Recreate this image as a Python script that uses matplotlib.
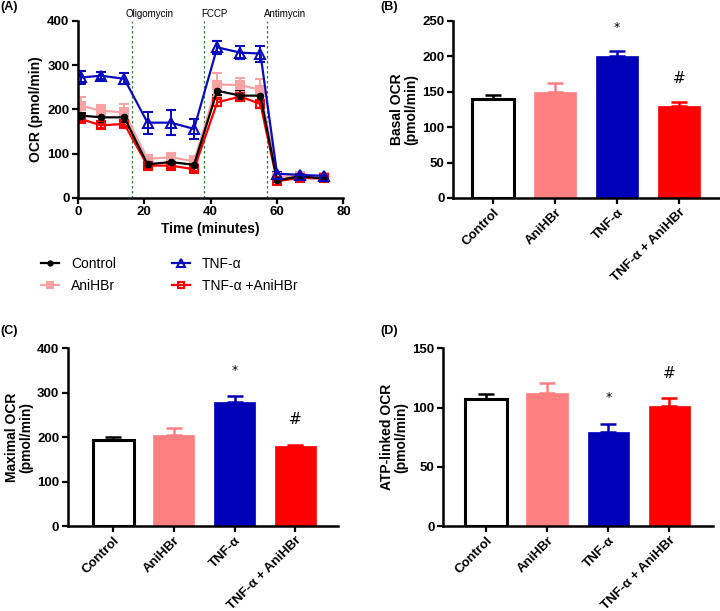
import matplotlib
matplotlib.use("Agg")
import matplotlib.pyplot as plt
from matplotlib.lines import Line2D
import numpy as np

plt.rcParams["font.family"] = ["Liberation Sans", "DejaVu Sans"]

# ---- panel A: OCR time course ----
time_min = [1, 7, 14, 21, 28, 35, 42, 49, 55, 60, 67, 74]
ocr_control = [186, 182, 182, 76, 81, 75, 242, 231, 231, 40, 49, 44]
err_control = [5, 10, 10, 5, 5, 5, 10, 12, 10, 3, 3, 3]
ocr_anihbr = [208, 197, 193, 88, 92, 83, 256, 255, 244, 48, 50, 48]
err_anihbr = [20, 12, 18, 10, 8, 12, 25, 15, 25, 4, 4, 4]
ocr_tnf = [272, 276, 269, 170, 170, 156, 340, 328, 326, 55, 52, 50]
err_tnf = [15, 8, 12, 25, 28, 22, 15, 15, 18, 4, 4, 4]
ocr_tnf_ani = [178, 164, 167, 73, 73, 65, 216, 229, 212, 38, 45, 44]
err_tnf_ani = [5, 5, 5, 5, 5, 5, 8, 8, 8, 3, 3, 3]

injections = [16.3, 38.1, 57.0]
injection_names = ["Oligomycin", "FCCP", "Antimycin"]

# ---- bar panels ----
groups = ["Control", "AniHBr", "TNF-α", "TNF-α + AniHBr"]
basal = [140, 150, 200, 130]
basal_err = [5, 12, 7, 5]
maximal = [193, 204, 280, 180]
maximal_err = [7, 17, 13, 3]
atp_linked = [107, 112, 79, 101]
atp_linked_err = [4, 9, 7, 7]

# significance marks: (bar index, symbol, value height)
basal_marks = [(2, "*", 232), (3, "#", 158)]
maximal_marks = [(2, "*", 335), (3, "#", 222)]
atp_marks = [(2, "*", 103), (3, "#", 122)]

C_BLACK = "#000000"
C_PINK_LINE = "#F7A3A3"
C_PINK_BAR = "#FF8080"
C_BLUE = "#0A0ABF"
C_BLUE_BAR = "#0000B8"
C_RED = "#FF0000"

TICK_FS = 9.5
LABEL_FS = 10


def style_axes(ax):
    for side in ("top", "right"):
        ax.spines[side].set_visible(False)
    for side in ("left", "bottom"):
        ax.spines[side].set_linewidth(1.8)
    ax.tick_params(width=1.6, length=4, pad=2, labelsize=TICK_FS)
    for lab in ax.get_xticklabels() + ax.get_yticklabels():
        lab.set_fontweight("bold")


fig = plt.figure(figsize=(7.2, 6.11), dpi=100)

# Panel A
axA = fig.add_axes([0.108, 0.676, 0.369, 0.290])
series = [
    (ocr_control, err_control, C_BLACK, "o", C_BLACK, 4, "Control"),
    (ocr_anihbr, err_anihbr, C_PINK_LINE, "s", C_PINK_LINE, 6, "AniHBr"),
    (ocr_tnf, err_tnf, C_BLUE, "^", "none", 7, "TNF-α"),
    (ocr_tnf_ani, err_tnf_ani, C_RED, "s", "none", 6, "TNF-α +AniHBr"),
]
handles = {}
for vals, errs, col, mk, mfc, ms, name in [series[1], series[3], series[0], series[2]]:
    axA.errorbar(time_min, vals, yerr=errs, color=col, marker=mk,
                 markerfacecolor=mfc, markeredgecolor=col, markersize=ms,
                 markeredgewidth=1.5, linewidth=1.6, capsize=3.5,
                 elinewidth=1.4, capthick=1.4)
    handles[name] = Line2D([], [], color=col, marker=mk, markerfacecolor=mfc,
                           markeredgecolor=col, markersize=ms - 1,
                           markeredgewidth=1.5, linewidth=1.6)
offsets = {"Oligomycin": 1.9, "FCCP": 1.0, "Antimycin": 1.0}
for x, name in zip(injections, injection_names):
    axA.axvline(x, color="#2E7D32", linestyle=(0, (2, 2)), linewidth=0.9)
    axA.text(x - offsets[name], 405, name, fontsize=7, ha="left", va="bottom")
axA.set_xlim(0, 80)
axA.set_ylim(0, 400)
axA.set_xticks([0, 20, 40, 60, 80])
axA.set_yticks([0, 100, 200, 300, 400])
axA.set_xlabel("Time (minutes)", fontsize=LABEL_FS, fontweight="bold", labelpad=3)
axA.set_ylabel("OCR (pmol/min)", fontsize=LABEL_FS, fontweight="bold", labelpad=3)
style_axes(axA)

order = ["Control", "AniHBr", "TNF-α", "TNF-α +AniHBr"]
fig.legend([handles[n] for n in order], order, loc="upper left",
           bbox_to_anchor=(0.040, 0.600), ncol=2, frameon=False,
           fontsize=10, columnspacing=4.0, handlelength=1.3,
           handletextpad=0.85, labelspacing=0.55)

bar_colors = ["white", C_PINK_BAR, C_BLUE_BAR, C_RED]
edge_colors = [C_BLACK, C_PINK_BAR, C_BLUE_BAR, C_RED]


def bar_panel(rect, vals, errs, marks, ylim, yticks, ylabel, xlim):
    ax = fig.add_axes(rect)
    x = np.arange(len(groups))
    for i in range(len(groups)):
        ax.bar(x[i], vals[i], width=0.68, color=bar_colors[i],
               edgecolor=edge_colors[i], linewidth=2.2 if i == 0 else 0.5,
               zorder=2)
        ax.errorbar(x[i], vals[i], yerr=[[0], [errs[i]]], color=edge_colors[i],
                    capsize=6, elinewidth=1.8, capthick=1.8, zorder=1)
    for i, sym, h in marks:
        ax.text(x[i], h, sym, ha="center", va="bottom",
                fontsize=9 if sym == "*" else 11, family="DejaVu Sans")
    ax.set_xlim(*xlim)
    ax.set_ylim(*ylim)
    ax.set_yticks(yticks)
    ax.set_xticks(x)
    ax.set_xticklabels(groups, rotation=45, ha="right", rotation_mode="anchor")
    ax.set_ylabel(ylabel, fontsize=LABEL_FS, fontweight="bold", linespacing=1.0,
                  labelpad=3)
    style_axes(ax)
    return ax


bar_panel([0.629, 0.676, 0.371, 0.290], basal, basal_err, basal_marks,
          (0, 250), [0, 50, 100, 150, 200, 250], "Basal OCR\n(pmol/min)",
          (-0.65, 3.66))
bar_panel([0.094, 0.139, 0.375, 0.291], maximal, maximal_err, maximal_marks,
          (0, 400), [0, 100, 200, 300, 400], "Maximal OCR\n(pmol/min)",
          (-0.75, 3.7))
bar_panel([0.615, 0.139, 0.375, 0.291], atp_linked, atp_linked_err, atp_marks,
          (0, 150), [0, 50, 100, 150], "ATP-linked OCR\n(pmol/min)",
          (-0.71, 3.71))

for label, x, y in [("(A)", 0.0, 0.998), ("(B)", 0.528, 0.998),
                    ("(C)", 0.0, 0.468), ("(D)", 0.528, 0.468)]:
    fig.text(x, y, label, fontsize=9, fontweight="bold", ha="left", va="top")

fig.savefig("out.png", dpi=100)
